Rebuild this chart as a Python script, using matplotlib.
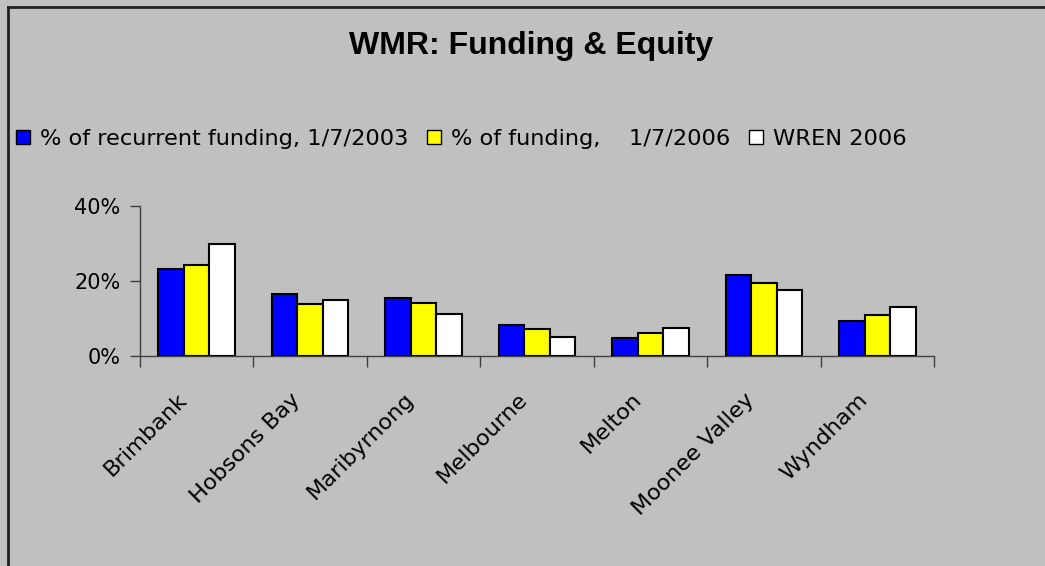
import matplotlib
matplotlib.use("Agg")
import matplotlib.pyplot as plt
import numpy as np
from matplotlib.patches import Patch
from matplotlib.lines import Line2D
from matplotlib.ticker import FuncFormatter

categories = ["Brimbank", "Hobsons Bay", "Maribyrnong", "Melbourne", "Melton", "Moonee Valley", "Wyndham"]
recurrent_2003 = [23.3, 16.5, 15.4, 8.4, 4.7, 21.7, 9.4]
funding_2006 = [24.4, 13.8, 14.2, 7.3, 6.2, 19.6, 11.0]
wren_2006 = [29.9, 14.9, 11.1, 5.2, 7.4, 17.5, 13.2]
series_names = ["% of recurrent funding, 1/7/2003", "% of funding,    1/7/2006", "WREN 2006"]
colors = ["#0000ff", "#ffff00", "#ffffff"]
yticks = [0, 20, 40]

bg = "#c0c0c0"
fig = plt.figure(figsize=(10.45, 5.66), dpi=100, facecolor=bg)
ax = fig.add_axes([140/1045, 1-356/566, 794/1045, 150/566])
ax.set_facecolor(bg)

x = np.arange(len(categories))
w = 0.225
for i, (vals, c) in enumerate(zip([recurrent_2003, funding_2006, wren_2006], colors)):
    ax.bar(x + (i-1)*w, vals, width=w, color=c, edgecolor="black", linewidth=1.5, zorder=3)

ax.set_xlim(-0.5, len(categories)-0.5)
ax.set_ylim(0, 40)
ax.set_yticks(yticks)
ax.yaxis.set_major_formatter(FuncFormatter(lambda v, p: f"{v:.0f}%"))
ax.tick_params(axis="y", direction="out", length=7, width=1, color="#404040",
               labelsize=15, pad=7)
ax.set_xticks(np.arange(len(categories)+1) - 0.5)
ax.set_xticklabels([])
ax.tick_params(axis="x", direction="out", length=8, width=1, color="#404040")
for s in ["top", "right"]:
    ax.spines[s].set_visible(False)
for s in ["left", "bottom"]:
    ax.spines[s].set_color("#404040")
    ax.spines[s].set_linewidth(1)

# category labels
for i, name in enumerate(categories):
    ax.annotate(name, xy=(i, 0), xycoords=("data", "data"), xytext=(-9, -29),
                textcoords="offset points", rotation=45, ha="right", va="center",
                rotation_mode="anchor", fontsize=16.2, family="DejaVu Sans")

fig.text(531/1045, 1-46/566, "WMR: Funding & Equity", ha="center", va="center",
         fontsize=23, fontweight="bold", family="Liberation Sans")

handles = [Patch(facecolor=c, edgecolor="black", linewidth=1) for c in colors]
leg = fig.legend(handles, series_names, loc="center left", bbox_to_anchor=(16/1045, 1-139/566),
                 ncol=3, frameon=False, fontsize=16.2, handlelength=0.6, handleheight=0.6,
                 handletextpad=0.45, columnspacing=0.85, borderaxespad=0, borderpad=0)

# frame lines (top and left)
fig.add_artist(Line2D([7.5/1045, 7.5/1045], [0, 1-6.5/566], transform=fig.transFigure, color="#202020", lw=2))
fig.add_artist(Line2D([7.5/1045, 1], [1-6.5/566, 1-6.5/566], transform=fig.transFigure, color="#202020", lw=2))

fig.savefig("out.png", dpi=100, facecolor=bg)
